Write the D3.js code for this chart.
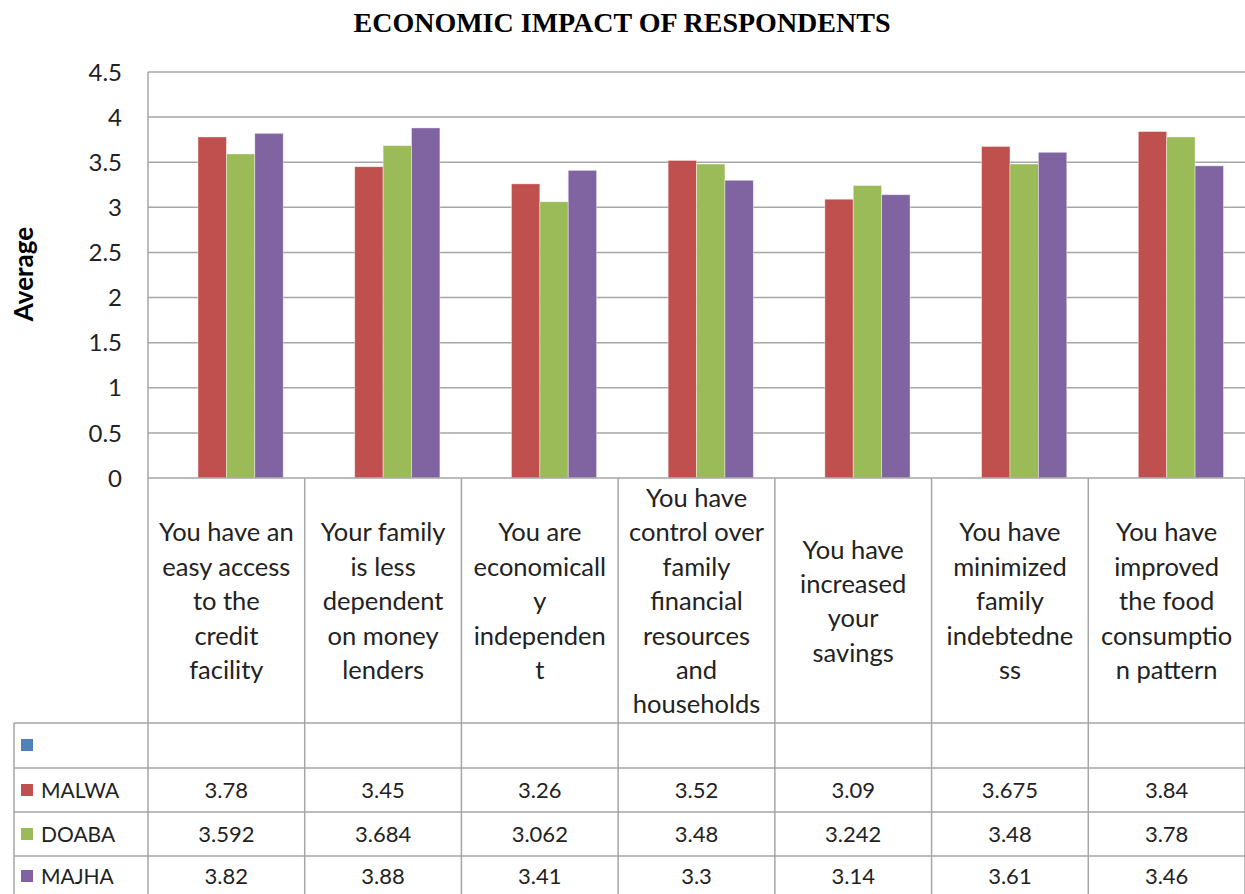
<!DOCTYPE html>
<html><head><meta charset="utf-8">
<script src="https://cdn.jsdelivr.net/npm/d3@7/dist/d3.min.js"></script>
<style>body{margin:0;background:#fff}svg{display:block}</style>
</head><body>
<svg id="c" width="1245" height="894"></svg>
<script>
const title = "ECONOMIC IMPACT OF RESPONDENTS";
const yTitle = "Average";
const categories = [
  ["You have an","easy access","to the","credit","facility"],
  ["Your family","is less","dependent","on money","lenders"],
  ["You are","economicall","y","independen","t"],
  ["You have","control over","family","financial","resources","and","households"],
  ["You have","increased","your","savings"],
  ["You have","minimized","family","indebtedne","ss"],
  ["You have","improved","the food","consumptio","n pattern"]
];
const seriesNames = ["MALWA","DOABA","MAJHA"];
const malwa = [3.78,3.45,3.26,3.52,3.09,3.675,3.84];
const doaba = [3.592,3.684,3.062,3.48,3.242,3.48,3.78];
const majha = [3.82,3.88,3.41,3.3,3.14,3.61,3.46];
const yTicks = [0,0.5,1,1.5,2,2.5,3,3.5,4,4.5];
const colors = ["#C0504D","#9BBB59","#8064A2"];
const blankColor = "#4F81BD";

const seriesVals = [malwa, doaba, majha];
const svg = d3.select("#c");
const font = "Lato, 'Open Sans', sans-serif";
const L = 148, R = 1245, T = 72, B = 478;
const y = d3.scaleLinear().domain([0,4.5]).range([B,T]);
const x = d3.scaleBand().domain(d3.range(categories.length)).range([L,R]).padding(0);
const cw = x.bandwidth();
const barW = 28.4;
const grid = "#a6a6a6";

// title
svg.append("text").attr("x",622).attr("y",32).attr("text-anchor","middle")
  .attr("font-family","'Liberation Serif','Times New Roman',serif").attr("font-weight","bold")
  .attr("font-size",28).text(title);

// gridlines
svg.append("g").selectAll("line").data(yTicks.filter(d=>d>0)).join("line")
  .attr("x1",L).attr("x2",R).attr("y1",d=>y(d)).attr("y2",d=>y(d))
  .attr("stroke",grid).attr("stroke-width",1.5);

// y axis labels
svg.append("g").selectAll("text").data(yTicks).join("text")
  .attr("x",122).attr("y",d=>y(d)).attr("dy","0.36em").attr("text-anchor","end")
  .attr("font-family",font).attr("font-size",24).attr("fill","#222").text(d=>d);

// y title
svg.append("text").attr("transform","translate(33,274) rotate(-90)").attr("text-anchor","middle")
  .attr("font-family",font).attr("font-weight","bold").attr("font-size",26).text(yTitle);

// bars
const gBars = svg.append("g");
seriesVals.forEach((vals,s)=>{
  gBars.selectAll(null).data(vals).join("rect")
    .attr("x",(d,i)=>x(i)+50+s*barW).attr("width",barW)
    .attr("y",d=>y(d)).attr("height",d=>B-y(d))
    .attr("fill",colors[s]).attr("stroke","rgba(255,255,255,0.5)").attr("stroke-width",0.8);
});

// axis line and plot left border
svg.append("line").attr("x1",L).attr("x2",R).attr("y1",B).attr("y2",B).attr("stroke",grid).attr("stroke-width",1.5);
svg.append("line").attr("x1",L).attr("x2",L).attr("y1",T).attr("y2",894).attr("stroke",grid).attr("stroke-width",1.5);

// table
const rowsY = [723,768,812,856,900];
const tL = 14;
svg.append("g").selectAll("line").data(d3.range(1,categories.length+1)).join("line")
  .attr("x1",i=>x(i-1)+cw).attr("x2",i=>x(i-1)+cw).attr("y1",B).attr("y2",894)
  .attr("stroke",grid).attr("stroke-width",1.5);
svg.append("line").attr("x1",tL).attr("x2",tL).attr("y1",rowsY[0]).attr("y2",894).attr("stroke",grid).attr("stroke-width",1.5);
svg.append("g").selectAll("line").data(rowsY.slice(0,4)).join("line")
  .attr("x1",tL).attr("x2",R).attr("y1",d=>d).attr("y2",d=>d).attr("stroke",grid).attr("stroke-width",1.5);

// category labels
const lh = 34.4;
categories.forEach((lines,i)=>{
  const cx = x(i)+cw/2;
  const cy = 601;
  const t = svg.append("text").attr("text-anchor","middle").attr("font-family",font)
    .attr("font-size",25.5).attr("fill","#222");
  lines.forEach((ln,k)=>{
    t.append("tspan").attr("x",cx).attr("y",cy+(k-(lines.length-1)/2)*lh).attr("dy","0.36em").text(ln);
  });
});

// legend blank row
svg.append("rect").attr("x",21).attr("y",739).attr("width",12).attr("height",12).attr("fill",blankColor);

// series rows
seriesNames.forEach((nm,s)=>{
  const cy = (rowsY[s+1]+rowsY[s+2])/2 - (s===2?2:0);
  svg.append("rect").attr("x",21).attr("y",cy-6).attr("width",12).attr("height",12).attr("fill",colors[s]);
  svg.append("text").attr("x",41).attr("y",cy).attr("dy","0.36em").attr("font-family",font)
    .attr("font-size",21).attr("fill","#222").text(nm);
  svg.append("g").selectAll("text").data(seriesVals[s]).join("text")
    .attr("x",(d,i)=>x(i)+cw/2).attr("y",cy).attr("dy","0.36em").attr("text-anchor","middle")
    .attr("font-family",font).attr("font-size",22).attr("fill","#222").text(d=>d);
});
</script>
</body></html>
